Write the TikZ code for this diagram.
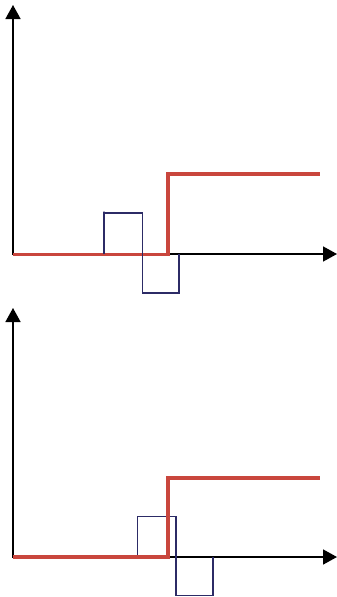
\documentclass[tikz,border=0pt]{standalone}
\usetikzlibrary{arrows.meta}
\definecolor{stepred}{HTML}{C9463D}
\definecolor{pulseblue}{HTML}{2C2B66}
\tikzset{
  axisline/.style={black, line width=1.6pt, -{Triangle[length=14pt,width=15pt]}},
  stepline/.style={stepred, line width=3.5pt, line join=miter},
  pulseline/.style={pulseblue, line width=1.8pt, line join=miter},
}
\begin{document}
\begin{tikzpicture}[x=1pt,y=-1pt]
\useasboundingbox (0,0) rectangle (337,597);
% top panel
\coordinate (o1) at (13,254);
\draw[axisline] (13,255) -- (13,5);
\draw[axisline] (13,254) -- (337,254);
\draw[stepline] (13,254.5) -- (168,254.5) -- (168,174) -- (320,174);
\draw[pulseline] (104,254) -- (104,211.5) -- (104,213) -- (142.5,213) -- (142.5,293) -- (179,293) -- (179,254);
% bottom panel
\coordinate (o2) at (13,557);
\draw[axisline] (13,558) -- (13,308);
\draw[axisline] (13,557) -- (337,557);
\draw[pulseline] (137.5,557) -- (137.5,516.5) -- (176,516.5) -- (176,595.5) -- (212.7,595.5) -- (212.7,557);
\draw[stepline] (13,557) -- (168,557) -- (168,478) -- (320,478);
\end{tikzpicture}
\end{document}
